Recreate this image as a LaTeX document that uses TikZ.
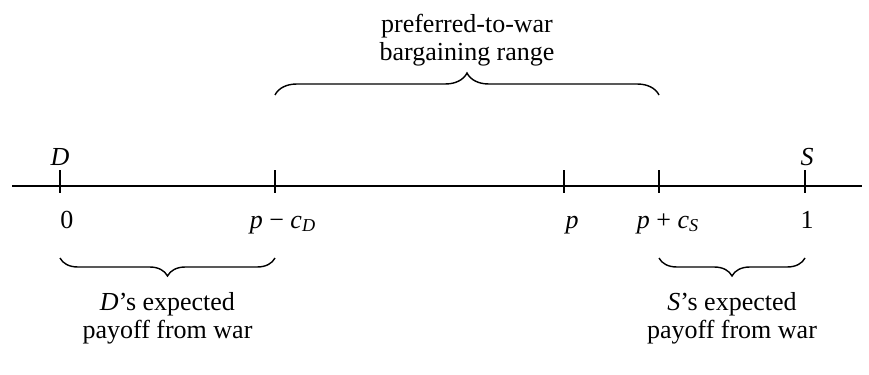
\documentclass[tikz,border=0pt]{standalone}
\usepackage{fontspec}
\setmainfont{Liberation Serif}
\usetikzlibrary{positioning,decorations.pathreplacing}

\begin{document}
\begin{tikzpicture}[x=0.5pt, y=-0.5pt,
    font=\fontsize{13}{14}\selectfont,
    axis/.style={line width=.8pt},
    tickmark/.style={line width=.8pt},
    curly/.style={decorate, line width=.7pt, decoration={brace, amplitude=#1}},
    curlydown/.style={decorate, line width=.7pt,
      decoration={brace, mirror, amplitude=#1}},
    ptlabel/.style={inner sep=1pt},
    note/.style={align=center, inner sep=1pt}
  ]
  \useasboundingbox (0,0) rectangle (869,375);

  % the line and its tick marks
  \coordinate (axL) at (12,186);
  \coordinate (axR) at (862,186);
  \draw[axis] (axL) -- (axR);
  \foreach \nm/\xx in {t0/60, tcD/275, tp/564, tcS/659, t1/805} {
    \coordinate (\nm) at (\xx,186);
    \draw[tickmark] ([yshift=8pt]\nm) -- ([yshift=-3.5pt]\nm);
  }

  % players above the line
  \node[ptlabel, above=9pt of t0] (playD) {\textit{D}};
  \node[ptlabel, above=9pt of t1, xshift=1pt] (playS) {\textit{S}};

  % values below the line
  \node[ptlabel, anchor=base] (v0) at ([xshift=3.5pt]t0 |- 0,228) {0};
  \node[ptlabel, anchor=base] (vcD) at ([xshift=4pt]tcD |- 0,228)
    {\textit{p} − \textit{c}\textsubscript{\textit{D}}};
  \node[ptlabel, anchor=base] (vp) at ([xshift=4pt]tp |- 0,228) {\textit{p}};
  \node[ptlabel, anchor=base] (vcS) at ([xshift=4.5pt]tcS |- 0,228)
    {\textit{p} + \textit{c}\textsubscript{\textit{S}}};
  \node[ptlabel, anchor=base] (v1) at ([xshift=1pt]t1 |- 0,228) {1};

  % braces
  \draw[curly=11pt] (tcD |- 0,95) -- (tcS |- 0,95)
    node[note, midway, above=13pt] (bargain)
    {preferred-to-war\\bargaining range};
  \draw[curlydown=9pt] (t0 |- 0,258) -- (tcD |- 0,258)
    node[note, midway, below=16pt] (payD)
    {\textit{D}’s expected\\payoff from war};
  \draw[curlydown=9pt] (tcS |- 0,258) -- (t1 |- 0,258)
    node[note, midway, below=16pt] (payS)
    {\textit{S}’s expected\\payoff from war};
\end{tikzpicture}
\end{document}
